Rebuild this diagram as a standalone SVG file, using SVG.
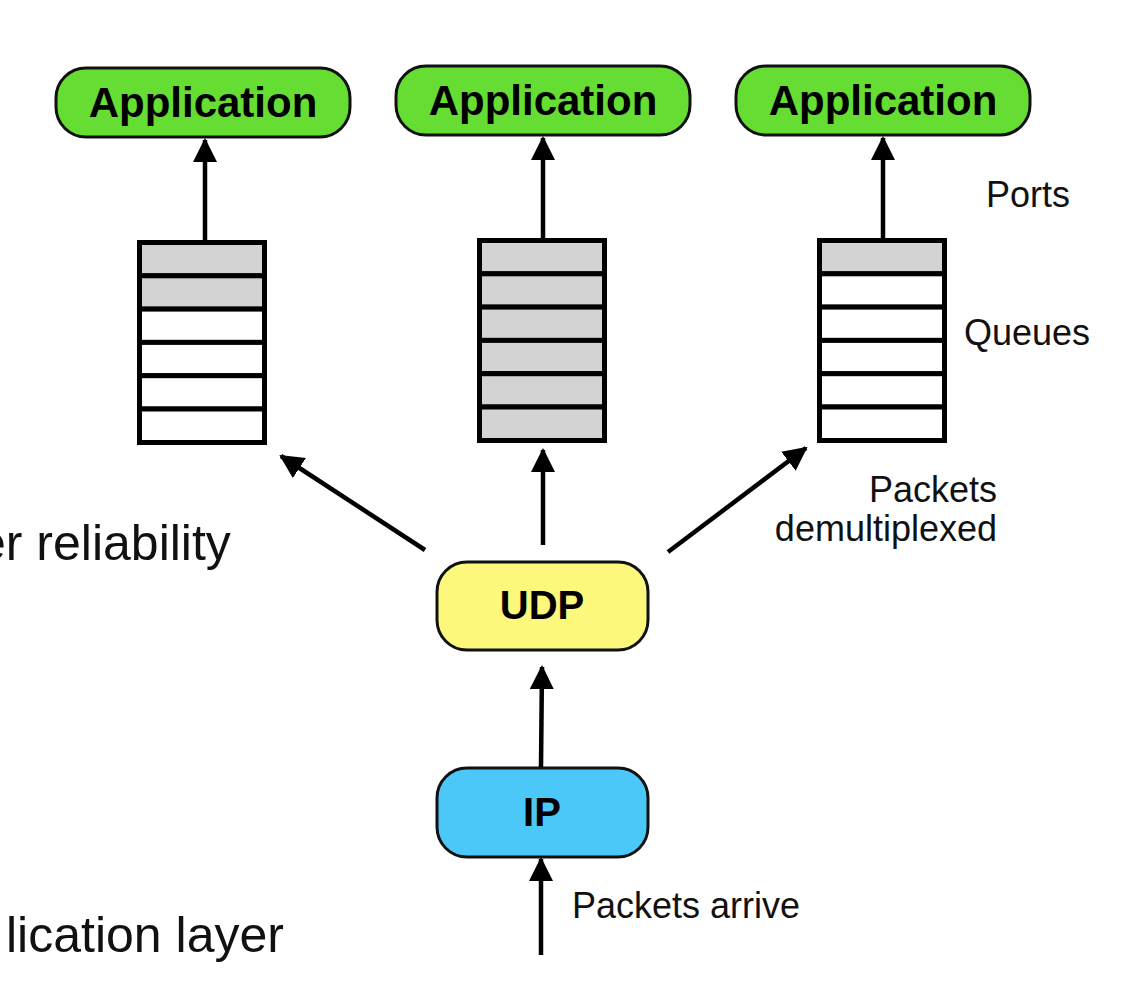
<svg xmlns="http://www.w3.org/2000/svg" width="1142" height="1000" viewBox="0 0 1142 1000">
<style>
.app{fill:#66dd33;stroke:#111;stroke-width:3}
.udp{fill:#fdf77c;stroke:#111;stroke-width:3}
.ip{fill:#4bc8f8;stroke:#111;stroke-width:3}
.lbl{font-family:"Liberation Sans",Arial,sans-serif;font-weight:bold;fill:#000;text-anchor:middle}
.cell{stroke:#000;stroke-width:5}
.g{fill:#d3d3d3}
.w{fill:#fff}
.t{font-family:"Liberation Sans",Arial,sans-serif;fill:#111;font-size:36px}
.big{font-family:"Liberation Sans",Arial,sans-serif;fill:#111;font-size:50px}
.conn line{stroke:#000;stroke-width:4.5;marker-end:url(#ah)}
</style>
<defs>
<marker id="ah" markerUnits="userSpaceOnUse" markerWidth="24" markerHeight="24" viewBox="0 0 24 24" refX="22" refY="12" orient="auto">
<path d="M0,0 L24,12 L0,24 Z" fill="#000"/>
</marker>
</defs>
<rect width="1142" height="1000" fill="#fff"/>

<g id="app1"><rect class="app" x="56" y="68" width="294" height="69" rx="30"/><text class="lbl" x="203" y="117" font-size="42">Application</text></g>
<g id="app2"><rect class="app" x="396" y="66" width="294" height="69" rx="30"/><text class="lbl" x="543" y="115" font-size="42">Application</text></g>
<g id="app3"><rect class="app" x="736" y="66" width="294" height="69" rx="30"/><text class="lbl" x="883" y="115" font-size="42">Application</text></g>

<g id="queue1">
<rect class="cell g" x="139.5" y="242.5" width="125" height="33.3"/>
<rect class="cell g" x="139.5" y="275.8" width="125" height="33.3"/>
<rect class="cell w" x="139.5" y="309.1" width="125" height="33.3"/>
<rect class="cell w" x="139.5" y="342.4" width="125" height="33.3"/>
<rect class="cell w" x="139.5" y="375.7" width="125" height="33.3"/>
<rect class="cell w" x="139.5" y="409" width="125" height="33.5"/>
</g>
<g id="queue2">
<rect class="cell g" x="479.5" y="240.5" width="125" height="33.3"/>
<rect class="cell g" x="479.5" y="273.8" width="125" height="33.3"/>
<rect class="cell g" x="479.5" y="307.1" width="125" height="33.3"/>
<rect class="cell g" x="479.5" y="340.4" width="125" height="33.3"/>
<rect class="cell g" x="479.5" y="373.7" width="125" height="33.3"/>
<rect class="cell g" x="479.5" y="407" width="125" height="33.5"/>
</g>
<g id="queue3">
<rect class="cell g" x="819.5" y="240.5" width="125" height="33.3"/>
<rect class="cell w" x="819.5" y="273.8" width="125" height="33.3"/>
<rect class="cell w" x="819.5" y="307.1" width="125" height="33.3"/>
<rect class="cell w" x="819.5" y="340.4" width="125" height="33.3"/>
<rect class="cell w" x="819.5" y="373.7" width="125" height="33.3"/>
<rect class="cell w" x="819.5" y="407" width="125" height="33.5"/>
</g>

<g id="udp"><rect class="udp" x="437" y="562" width="211" height="88" rx="30"/><text class="lbl" x="542" y="619" font-size="40">UDP</text></g>
<g id="ip"><rect class="ip" x="437" y="768" width="211" height="89" rx="30"/><text class="lbl" x="542" y="826" font-size="40">IP</text></g>

<g class="conn">
<line x1="205" y1="240" x2="205" y2="140"/>
<line x1="543" y1="238" x2="543" y2="138"/>
<line x1="883" y1="238" x2="883" y2="138"/>
<line x1="425" y1="550" x2="281" y2="456"/>
<line x1="543" y1="545" x2="543" y2="450"/>
<line x1="668" y1="552" x2="806" y2="448"/>
<line x1="541" y1="767" x2="542" y2="667"/>
<line x1="541" y1="955" x2="541" y2="859"/>
</g>

<g id="labels">
<text class="t" x="986" y="207">Ports</text>
<text class="t" x="964" y="345">Queues</text>
<text class="t" x="997" y="502" text-anchor="end">Packets</text>
<text class="t" x="997" y="541" text-anchor="end">demultiplexed</text>
<text class="t" x="572" y="918">Packets arrive</text>
<text class="big" x="-22" y="560">er reliability</text>
<text class="big" x="6" y="952">lication layer</text>
</g>
</svg>
